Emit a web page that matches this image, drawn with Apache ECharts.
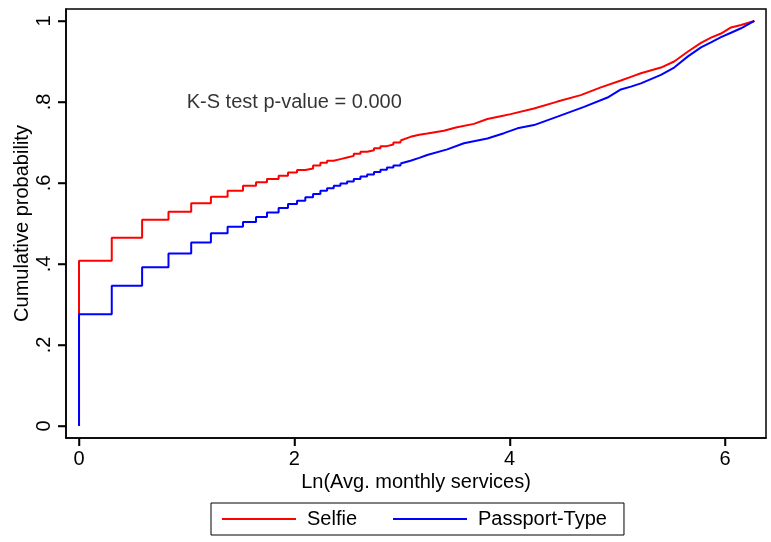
<!DOCTYPE html>
<html>
<head>
<meta charset="utf-8">
<script src="https://cdn.jsdelivr.net/npm/echarts@6/dist/echarts.min.js"></script>
<style>
  html, body { margin: 0; padding: 0; background: #fff; }
  #chart { width: 771px; height: 542px; }
</style>
</head>
<body>
<div id="chart"></div>
<script>
// Empirical CDFs of ln(average monthly services), by onboarding type.
const selfieX = [0, 0, 0.304, 0.586, 0.831, 1.042, 1.225, 1.380, 1.523, 1.644, 1.746, 1.854, 1.941, 2.025,
  2.102, 2.174, 2.242, 2.304, 2.366, 2.428, 2.490, 2.552, 2.614, 2.676, 2.74, 2.80, 2.86, 2.92, 2.986,
  3.079, 3.16, 3.234, 3.389, 3.5, 3.668, 3.793, 3.916, 4.009, 4.226, 4.444, 4.660, 4.847, 5.033, 5.126,
  5.219, 5.405, 5.528, 5.653, 5.777, 5.870, 5.963, 6.056, 6.149, 6.273];
const selfieY = [0, 0.408, 0.465, 0.509, 0.529, 0.550, 0.566, 0.581, 0.593, 0.602, 0.610, 0.618, 0.626, 0.632,
  0.636, 0.643, 0.650, 0.655, 0.659, 0.663, 0.667, 0.672, 0.677, 0.681, 0.686, 0.691, 0.695, 0.700, 0.705,
  0.714, 0.719, 0.722, 0.729, 0.737, 0.746, 0.758, 0.765, 0.770, 0.784, 0.801, 0.817, 0.836, 0.853, 0.862,
  0.871, 0.885, 0.900, 0.924, 0.946, 0.959, 0.969, 0.984, 0.990, 1.0];

const passportX = [0, 0, 0.304, 0.586, 0.831, 1.042, 1.225, 1.380, 1.523, 1.644, 1.746, 1.854, 1.941, 2.025,
  2.102, 2.174, 2.242, 2.304, 2.366, 2.428, 2.490, 2.552, 2.614, 2.676, 2.74, 2.80, 2.86, 2.92, 2.986,
  3.079, 3.16, 3.234, 3.420, 3.575, 3.793, 3.947, 4.072, 4.226, 4.444, 4.691, 4.909, 5.033, 5.126,
  5.219, 5.405, 5.528, 5.653, 5.777, 5.870, 5.963, 6.056, 6.149, 6.273];
const passportY = [0, 0.276, 0.346, 0.392, 0.426, 0.453, 0.476, 0.492, 0.504, 0.516, 0.527, 0.538, 0.548, 0.556,
  0.565, 0.573, 0.581, 0.587, 0.593, 0.599, 0.604, 0.610, 0.616, 0.621, 0.627, 0.633, 0.638, 0.643, 0.648,
  0.655, 0.662, 0.669, 0.683, 0.698, 0.710, 0.723, 0.735, 0.743, 0.764, 0.788, 0.811, 0.831, 0.838,
  0.846, 0.867, 0.885, 0.912, 0.935, 0.947, 0.960, 0.971, 0.982, 1.0];

// Below this x the jumps are coarse enough to show as steps; above it they blend into a curve.
const stepLimit = 3.0;

const seriesNames = ['Selfie', 'Passport-Type'];
const seriesColors = ['#ff0000', '#0000ff'];
const xTicks = [0, 2, 4, 6];
const yTicks = [0, 0.2, 0.4, 0.6, 0.8, 1];
const yTickLabels = ['0', '.2', '.4', '.6', '.8', '1'];
const noteText = 'K-S test p-value = 0.000';
const notePos = [1, 0.8];

const xRange = [-0.121, 6.381];
const yRange = [-0.0296, 1.0296];

const pairs = (xs, ys) => xs.map((x, i) => [x, ys[i]]);
const font = 'Liberation Sans, Arial, Helvetica, sans-serif';
const frameColor = '#000';
const tickLen = 8;

// Each ECDF = stepped lower part + continuous upper part, sharing one legend entry.
function ecdfSeries(name, color, xs, ys) {
  const pts = pairs(xs, ys);
  const lower = pts.filter(p => p[0] <= stepLimit);
  const upper = [lower[lower.length - 1]].concat(pts.filter(p => p[0] > stepLimit));
  const common = {
    name, type: 'line', showSymbol: false,
    itemStyle: { color }, lineStyle: { color, width: 2 }
  };
  return [
    Object.assign({}, common, { step: 'end', data: lower }),
    Object.assign({}, common, { data: upper })
  ];
}

// Outward tick marks along the left and bottom frame, positioned by the axis scales.
function tickSeries() {
  const marks = xTicks.map(v => ['x', v]).concat(yTicks.map(v => ['y', v]));
  return {
    name: 'ticks', type: 'custom', silent: true, clip: false, z: 10,
    data: marks.map((m, i) => [i]),
    renderItem: (params, api) => {
      const [kind, v] = marks[api.value(0)];
      if (kind === 'x') {
        const p = api.coord([v, yRange[0]]);
        const x = Math.round(p[0]) + 0.5;
        return { type: 'line', shape: { x1: x, y1: p[1], x2: x, y2: p[1] + tickLen },
                 style: { stroke: frameColor, lineWidth: 1.5 } };
      }
      const p = api.coord([xRange[0], v]);
      const y = Math.round(p[1]) + 0.5;
      return { type: 'line', shape: { x1: p[0] - tickLen, y1: y, x2: p[0], y2: y },
               style: { stroke: frameColor, lineWidth: 1.5 } };
    }
  };
}

const chart = echarts.init(document.getElementById('chart'), null, { renderer: 'canvas' });
chart.setOption({
  animation: false,
  backgroundColor: '#ffffff',
  textStyle: { fontFamily: font, color: '#000' },
  grid: {
    left: 66, right: 5, top: 9, bottom: 104,
    show: true, borderColor: frameColor, borderWidth: 1.5
  },
  xAxis: {
    type: 'value',
    position: 'bottom',
    min: xRange[0], max: xRange[1],
    name: 'Ln(Avg. monthly services)',
    nameLocation: 'middle', nameGap: 34, nameMoveOverlap: false,
    nameTextStyle: { fontSize: 20, fontFamily: font, color: '#000' },
    axisLine: { show: true, onZero: false, lineStyle: { color: frameColor, width: 1.5 } },
    splitLine: { show: false },
    axisTick: { show: true, inside: false, length: tickLen, customValues: xTicks, lineStyle: { color: frameColor, width: 1.5 } },
    axisLabel: { customValues: xTicks, margin: 11, fontSize: 20, fontFamily: font, color: '#000' }
  },
  yAxis: {
    type: 'value',
    position: 'left',
    min: yRange[0], max: yRange[1],
    name: 'Cumulative probability',
    nameLocation: 'middle', nameGap: 34, nameMoveOverlap: false,
    nameTextStyle: { fontSize: 20, fontFamily: font, color: '#000' },
    axisLine: { show: true, onZero: false, lineStyle: { color: frameColor, width: 1.5 } },
    splitLine: { show: false },
    axisTick: { show: true, inside: false, length: tickLen, customValues: yTicks, lineStyle: { color: frameColor, width: 1.5 } },
    axisLabel: {
      customValues: yTicks, rotate: 90, margin: 12, fontSize: 20, fontFamily: font, color: '#000',
      formatter: v => {
        const i = yTicks.findIndex(t => Math.abs(t - v) < 1e-9);
        return i >= 0 ? yTickLabels[i] : '';
      }
    }
  },
  legend: {
    data: seriesNames,
    left: 211, top: 503,
    orient: 'horizontal',
    icon: 'rect',
    itemWidth: 74, itemHeight: 2,
    itemGap: 36,
    padding: [6, 17, 6, 11],
    borderColor: '#000', borderWidth: 1,
    textStyle: { fontSize: 20, fontFamily: font, color: '#000', padding: [0, 0, 0, 6] }
  },
  series: [
    ...ecdfSeries(seriesNames[0], seriesColors[0], selfieX, selfieY),
    ...ecdfSeries(seriesNames[1], seriesColors[1], passportX, passportY),
    tickSeries(),
    {
      name: 'note', type: 'scatter', silent: true, symbolSize: 0,
      data: [notePos],
      label: {
        show: true, position: 'right', distance: 0,
        formatter: () => noteText,
        fontSize: 20, fontFamily: font, color: '#000'
      }
    }
  ]
});
</script>
</body>
</html>
